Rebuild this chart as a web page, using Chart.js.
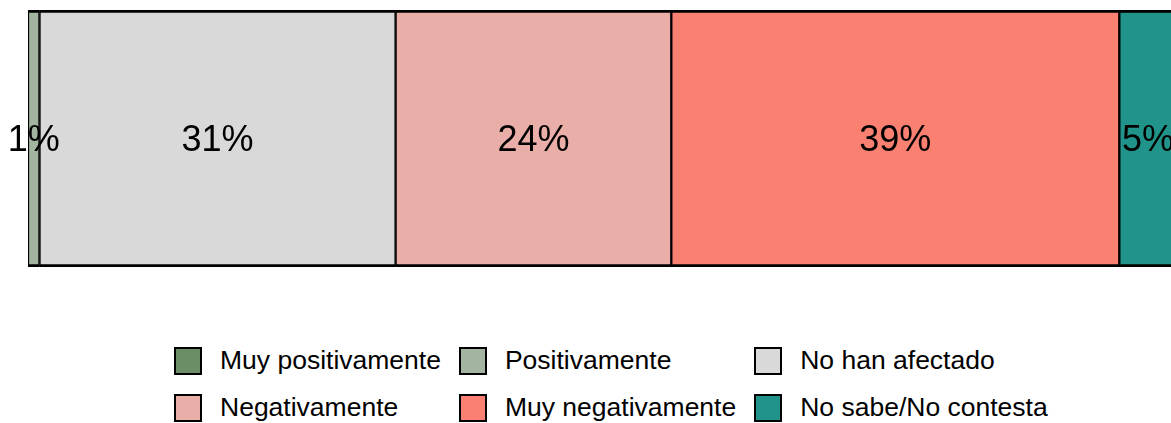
<!DOCTYPE html>
<html>
<head>
<meta charset="utf-8">
<script src="https://cdn.jsdelivr.net/npm/chart.js@4/dist/chart.umd.min.js"></script>
<style>
  html, body { margin: 0; padding: 0; background: #fff; }
  body { width: 1171px; height: 423px; overflow: hidden; position: relative; font-family: "Liberation Sans", Arial, sans-serif; }
  #wrap { position: absolute; left: 0; top: 0; width: 1171px; height: 300px; }
  #legend {
    position: absolute; left: 174px; top: 346px;
    display: grid; grid-template-columns: auto auto auto;
    column-gap: 18px; row-gap: 18px;
  }
  .item { display: flex; align-items: center; height: 29px; font-size: 26.5px; color: #000; white-space: nowrap; }
  .box { width: 24px; height: 24px; border: 2.5px solid #000; margin-right: 18px; flex: none; }
</style>
</head>
<body>
<div id="wrap"><canvas id="chart"></canvas></div>
<div id="legend"></div>
<script>
// Categorías y valores (%)
const categorias = ["Muy positivamente", "Positivamente", "No han afectado", "Negativamente", "Muy negativamente", "No sabe/No contesta"];
const valores = [0, 1, 31, 24, 39, 5];
const colores = ["#6b8e67", "#a3b5a1", "#d9d9d9", "#eaaea9", "#fa8072", "#20948b"];

// Etiquetas de porcentaje en el centro de cada segmento
const etiquetasPlugin = {
  id: "etiquetas",
  afterDatasetsDraw(chart) {
    const ctx = chart.ctx;
    ctx.save();
    ctx.font = '36px "Liberation Sans", Arial, sans-serif';
    ctx.fillStyle = "#000";
    ctx.textAlign = "center";
    ctx.textBaseline = "middle";
    chart.data.datasets.forEach((ds, i) => {
      const v = ds.data[0];
      if (!v) return;
      const el = chart.getDatasetMeta(i).data[0];
      ctx.fillText(v + "%", (el.x + el.base) / 2, el.y + 3);
    });
    ctx.restore();
  },
};

const datasets = categorias.map((nombre, i) => ({
  label: nombre,
  data: [valores[i]],
  backgroundColor: colores[i],
  borderColor: "#000",
  borderWidth: { top: 3, bottom: 3, left: 1.5, right: 1.5 },
  borderSkipped: false,
  barPercentage: 1,
  categoryPercentage: 1,
}));

new Chart(document.getElementById("chart"), {
  type: "bar",
  data: { labels: [""], datasets },
  options: {
    indexAxis: "y",
    responsive: true,
    maintainAspectRatio: false,
    animation: false,
    layout: { padding: { top: 10, bottom: 33, left: 28, right: 0 } },
    scales: {
      x: { stacked: true, min: 0, max: 99.5, display: false },
      y: { stacked: true, display: false },
    },
    plugins: {
      legend: { display: false },
      tooltip: { enabled: false },
    },
  },
  plugins: [etiquetasPlugin],
});

// Leyenda en tres columnas
const leyenda = document.getElementById("legend");
categorias.forEach((nombre, i) => {
  const item = document.createElement("div");
  item.className = "item";
  item.innerHTML = `<span class="box" style="background:${colores[i]}"></span>${nombre}`;
  leyenda.appendChild(item);
});
</script>
</body>
</html>
